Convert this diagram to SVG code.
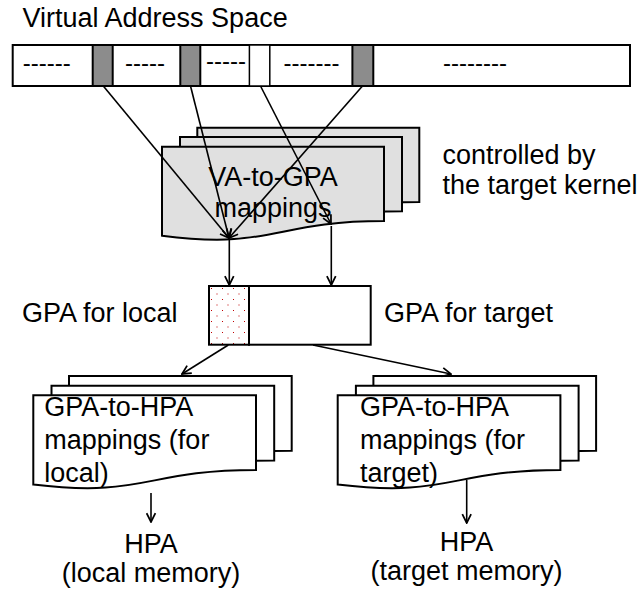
<svg xmlns="http://www.w3.org/2000/svg" width="641" height="593" viewBox="0 0 641 593">
<style>
text{font-family:"Liberation Sans",Arial,sans-serif;font-size:27px;fill:#000}
.dash{font-size:24px}
.shape{stroke:#000;stroke-width:2}
.page{fill:#e0e0e0;stroke:#000;stroke-width:2}
.wpage{fill:#fff;stroke:#000;stroke-width:2}
.conn{stroke:#000;stroke-width:1.6;fill:none;marker-end:url(#arr)}
.gray{fill:#8c8c8c;stroke:#000;stroke-width:2}
</style>
<defs>
<marker id="arr" viewBox="0 0 10 10" refX="9" refY="5" markerWidth="11" markerHeight="11" markerUnits="userSpaceOnUse" orient="auto">
<path d="M1,1 L9,5 L1,9" fill="none" stroke="#000" stroke-width="1.6"/>
</marker>
<pattern id="dots" width="11" height="11" patternUnits="userSpaceOnUse" x="209" y="286">
<rect width="11" height="11" fill="#fff"/>
<rect x="2" y="2" width="1" height="1" fill="#c00000"/>
<rect x="7.5" y="7.5" width="1" height="1" fill="#c00000"/>
</pattern>
<path id="vadoc" d="M162,146.7 L384,146.7 L384,221 C273,221 273,250 162,235.7 Z"/>
<path id="hpadoc" d="M33.3,395.3 L256,395.3 L256,470 C144.7,470 144.7,498 33.3,484.5 Z"/>
</defs>

<text x="22.5" y="27">Virtual Address Space</text>

<g id="va-bar">
<rect x="12.7" y="45" width="617.3" height="41" fill="#fff" class="shape"/>
<rect x="92.7" y="45" width="20" height="41" class="gray"/>
<rect x="180.3" y="45" width="20" height="41" class="gray"/>
<rect x="249.4" y="45" width="20.4" height="41" fill="#fff" stroke="#000" stroke-width="1.5"/>
<rect x="352.4" y="45" width="20.9" height="41" class="gray"/>
<text class="dash" x="22.7" y="70.5">------</text>
<text class="dash" x="125" y="70.5">-----</text>
<text class="dash" x="206" y="68.5">-----</text>
<text class="dash" x="283.5" y="70.5">-------</text>
<text class="dash" x="443" y="70.5">--------</text>
</g>

<g id="va-to-gpa">
<use href="#vadoc" class="page" transform="translate(35.3,-19)"/>
<use href="#vadoc" class="page" transform="translate(18,-9.7)"/>
<use href="#vadoc" class="page"/>
<text x="273" y="186" text-anchor="middle">VA-to-GPA</text>
<text x="273" y="217" text-anchor="middle">mappings</text>
</g>

<g id="controlled-label">
<text x="442.5" y="163.5">controlled by</text>
<text x="442.5" y="194">the target kernel</text>
</g>

<g id="gpa-box">
<rect x="209" y="286" width="40" height="58.7" fill="url(#dots)" class="shape"/>
<rect x="249" y="286" width="121.7" height="58.7" fill="#fff" class="shape"/>
</g>
<text x="22" y="322">GPA for local</text>
<text x="384" y="322">GPA for target</text>

<g id="gpa-to-hpa-local">
<use href="#hpadoc" class="wpage" transform="translate(35.7,-19.3)"/>
<use href="#hpadoc" class="wpage" transform="translate(18.2,-9.6)"/>
<use href="#hpadoc" class="wpage"/>
<text x="44.3" y="415.5">GPA-to-HPA</text>
<text x="44.3" y="448.5">mappings (for</text>
<text x="44.3" y="481.5">local)</text>
</g>

<g id="gpa-to-hpa-target">
<g transform="translate(304.4,0)">
<use href="#hpadoc" class="wpage" transform="translate(35.7,-19.3)"/>
<use href="#hpadoc" class="wpage" transform="translate(18.2,-9.6)"/>
<use href="#hpadoc" class="wpage"/>
</g>
<text x="360" y="415.5">GPA-to-HPA</text>
<text x="360" y="448.5">mappings (for</text>
<text x="360" y="481.5">target)</text>
</g>

<g id="hpa-local">
<text x="151" y="552.5" text-anchor="middle">HPA</text>
<text x="151" y="581.5" text-anchor="middle">(local memory)</text>
</g>
<g id="hpa-target">
<text x="466.5" y="551" text-anchor="middle">HPA</text>
<text x="466.5" y="580" text-anchor="middle">(target memory)</text>
</g>

<g id="connectors">
<path class="conn" d="M103.3,86 L229,238"/>
<path class="conn" d="M190.5,86 L229,238"/>
<path class="conn" d="M362.5,86 L229,238"/>
<path class="conn" d="M260.5,86 L331,224"/>
<path class="conn" d="M229.3,240 L229.3,285"/>
<path class="conn" d="M331.3,226 L331.3,285"/>
<path class="conn" d="M228.3,345 L182,374"/>
<path class="conn" d="M313,345 L451,374"/>
<path class="conn" d="M151,493 L151,522"/>
<path class="conn" d="M466.7,480 L466.7,523"/>
</g>
</svg>
